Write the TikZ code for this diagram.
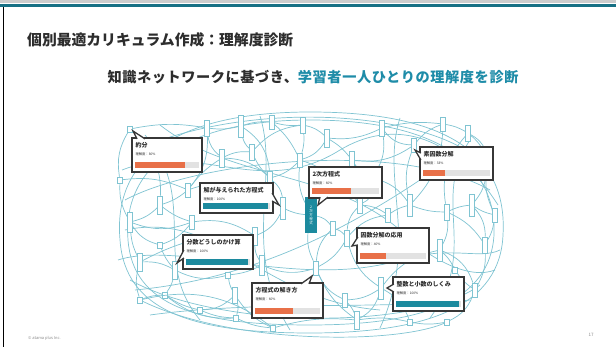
\documentclass[tikz,border=0pt]{standalone}
\usepackage{fontspec}
\setmainfont{Noto Sans CJK JP}
\newfontfamily\subfont[LetterSpace=4]{Noto Sans CJK JP}
\usetikzlibrary{calc}
\definecolor{netc}{RGB}{128,196,210}
\definecolor{tealm}{RGB}{28,138,158}
\definecolor{tealt}{RGB}{30,140,168}
\definecolor{topbar}{RGB}{22,112,132}
\definecolor{orng}{RGB}{232,112,72}
\definecolor{barbg}{RGB}{226,226,226}
\definecolor{ink}{RGB}{45,45,45}
\definecolor{cline}{RGB}{55,55,55}
\tikzset{
  net/.style={draw=netc, line width=0.7pt},
  knode/.style={draw=netc, fill=white, line width=0.6pt, minimum width=5, inner sep=0pt},
  cardbox/.style={draw=cline, fill=white, line width=1.3pt, inner sep=0pt},
  cardline/.style={draw=cline, line width=1.3pt, line join=miter},
  cardlabel/.style={anchor=north west, inner sep=0pt, text=ink, font=\bfseries\fontsize{6}{7}\selectfont},
  cardpct/.style={anchor=north west, inner sep=0pt, text=ink, font=\fontsize{3.3}{4}\selectfont},
}
\newcommand\kcard[8]{%
  \node[cardbox, minimum width=#4, minimum height=#5] (#1) at (#2,#3) {};
  \node[cardlabel] (#1-t) at ($(#1.north west)+(4,4.5)$) {#6};
  \node[cardpct] (#1-p) at ($(#1.north west)+(4,15)$) {理解度：#7\%};
  \fill[barbg] ($(#1.south west)+(4,-5)$) rectangle ($(#1.south east)+(-4,-10.5)$);
  \fill[#8] ($(#1.south west)+(4,-5)$) rectangle ++({(#4-8)*#7/100},-5.5);
}
\newcommand\ktail[3]{\fill[white] #1 -- #2 -- #3 -- cycle; \draw[cardline] #1 -- #2 -- #3;}
\begin{document}
\begin{tikzpicture}[x=1pt,y=-1pt]
\useasboundingbox (0,0) rectangle (616,347);
\fill[white] (0,0) rectangle (616,347);
% frame
\fill[black!20] (0,0) rectangle (616,3);
\fill[topbar] (0,4) rectangle (616,7.5);
\draw[black, line width=1.2pt] (3.5,7.5) -- (3.5,347);
% titles
\node[anchor=west, inner sep=0pt, text=ink, font=\bfseries\fontsize{14.8}{16}\selectfont] (title) at (27,40) {個別最適カリキュラム作成：理解度診断};
\node[inner sep=0pt, font=\subfont\bfseries\fontsize{14.2}{16}\selectfont] (sub) at (313,77) {\textcolor{ink}{知識ネットワークに基づき、}\textcolor{tealt}{学習者一人ひとりの理解度を診断}};
% outer rings
\draw[net] (120,240) .. controls (112,150) and (190,112) .. (310,112) .. controls (440,112) and (508,150) .. (503,235) .. controls (500,305) and (430,333) .. (310,333) .. controls (190,333) and (125,310) .. (120,240);
\draw[net] (128,240) .. controls (122,160) and (195,120) .. (310,120) .. controls (430,120) and (497,160) .. (494,235) .. controls (490,300) and (425,325) .. (310,325) .. controls (195,325) and (133,305) .. (128,240);
\draw[net] (140,300) .. controls (230,345) and (400,345) .. (447,322);
\draw[net] (130,280) .. controls (220,330) and (420,330) .. (480,285);
\draw[net] (125,200) .. controls (200,160) and (400,140) .. (490,190);
\draw[net] (135,150) .. controls (250,100) and (420,110) .. (480,160);
\draw[net] (150,315) .. controls (260,300) and (380,310) .. (470,300);
\draw[net] (118,260) .. controls (180,240) and (300,290) .. (400,260) .. controls (450,245) and (480,260) .. (500,250);
\draw[net] (122,170) .. controls (200,140) and (260,200) .. (340,150) .. controls (390,120) and (450,130) .. (498,205);
\draw[net] (145,135) .. controls (200,200) and (150,260) .. (200,320);
\draw[net] (470,140) .. controls (430,200) and (480,250) .. (430,318);
\draw[net] (160,125) .. controls (230,180) and (330,170) .. (400,230) .. controls (430,260) and (470,280) .. (495,270);
\draw[net] (125,230) .. controls (220,210) and (260,300) .. (380,310);
\draw[net] (260,116) .. controls (280,180) and (240,250) .. (290,330);
\draw[net] (400,118) .. controls (380,180) and (420,240) .. (380,328);
\draw[net] (135,290) .. controls (240,280) and (330,240) .. (420,180) .. controls (450,160) and (470,150) .. (492,150);
% small nodes
\foreach \x/\y/\h [count=\i] in {
 130/129/6, 207/128/16, 241/126/22, 272/122/14, 303/125/16, 327/138/18,
 352/160/18, 382/128/16, 414/145/14, 443/124/14, 468/133/16, 487/168/14,
 472/205/22, 447/212/16, 410/205/22, 440/250/22, 485/245/16, 475/290/14,
 447/322/6, 381/288/22, 347/238/16, 283/208/22, 345/190/14, 372/178/20,
 388/215/14, 360/205/16, 255/236/18, 262/265/20, 228/275/6, 160/245/6,
 140/262/18, 130/222/20, 160/205/18, 192/222/14, 175/270/18, 165/295/6,
 200/310/6, 140/300/6, 236/318/6, 273/328/6, 357/320/18, 345/300/14,
 316/268/14, 222/158/18, 252/152/16, 270/178/14, 188/190/14, 300/160/14,
 455/270/6, 495/215/14, 120/180/6, 235/295/16, 333/228/14, 410/322/6}
 {\node[knode, minimum height=\h] (n\i) at (\x,\y) {};}
\node[fill=tealm, minimum width=12, minimum height=36, inner sep=0pt, text=white, align=center, font=\fontsize{3.5}{4}\selectfont] (tb) at (311,215) {2\\次\\方\\程\\式};
% edges
\foreach \a/\b/\bd in {
 1/2/10, 2/3/-10, 3/4/10, 4/5/-10, 5/6/15, 6/7/10, 7/9/-20, 8/10/10, 9/10/15,
 10/11/10, 11/12/20, 12/13/15, 13/17/20, 17/18/15, 18/19/20, 19/54/10, 54/41/-10,
 41/40/-10, 40/39/10, 39/37/10, 37/36/10, 36/38/-10, 38/31/15, 31/32/10, 32/51/15,
 51/1/20, 2/44/-20, 44/45/15, 45/46/-10, 46/22/20, 3/45/-15, 4/48/10, 48/6/-20,
 48/23/15, 23/24/-10, 24/7/15, 24/15/20, 15/14/-10, 14/13/10, 8/24/20, 9/15/-15,
 25/15/10, 26/25/15, 26/21/-20, 23/26/10, 21/43/15, 21/20/-20, 20/16/20, 16/14/-15,
 16/49/10, 49/18/-10, 17/50/-10, 50/12/15, 22/27/20, 27/28/-15, 28/43/-20,
 28/29/10, 29/52/-10, 52/39/15, 35/29/-20, 35/30/10, 30/34/-15, 34/33/10, 33/32/15,
 33/47/-10, 47/44/10, 34/27/20, 31/35/15, 36/35/-10, 43/53/20, 53/21/15, 41/20/-20,
 40/52/15, 37/52/-20, 1/33/25, 11/14/-25, 10/15/20, 5/48/10, 46/48/-15, 45/5/20,
 20/54/20, 42/41/10, 42/20/-15, 42/43/20, 6/8/-15, 7/26/20, 3/46/25, 32/30/-20,
 51/47/15, 50/13/10, 12/11/-30, 38/40/25, 36/39/-20, 31/27/15, 32/34/-20, 47/22/30,
 2/47/20, 8/9/-25, 14/17/15, 16/18/25, 25/21/-20, 24/26/30, 44/46/20, 43/41/-15}
 {\draw[net] (n\a) to[bend left=\bd] (n\b);}
\draw[net] (n22) to[bend left=-10] (tb);
\draw[net] (n53) to[bend left=-20] (tb);
\draw[net] (tb) to[bend left=15] (n48);
\draw[net] (tb) to[bend left=-15] (n43);
% cards
\kcard{c1}{167}{155}{70}{34}{約分}{80}{orng}
\ktail{(137,138.9)}{(133,131)}{(145,138.9)}
\kcard{c2}{236.5}{198}{73}{30}{解が与えられた方程式}{100}{tealm}
\ktail{(272.1,193)}{(279,205)}{(272.1,201)}
\kcard{c3}{345.5}{182.5}{73}{31}{2次方程式}{60}{orng}
\ktail{(320,197.1)}{(318,205)}{(328,197.1)}
\kcard{c4}{456.5}{163.5}{73}{33}{素因数分解}{33}{orng}
\ktail{(420.9,153)}{(415,150)}{(420.9,160)}
\kcard{c5}{218}{252}{70}{34}{分数どうしのかけ算}{100}{tealm}
\ktail{(183.9,250)}{(177,263)}{(183.9,258)}
\kcard{c6}{287.5}{300.5}{71}{35}{方程式の解き方}{60}{orng}
\ktail{(301,283.9)}{(312,276)}{(309,283.9)}
\kcard{c7}{393}{245.5}{72}{35}{因数分解の応用}{40}{orng}
\ktail{(357.9,237)}{(352,246)}{(357.9,245)}
\kcard{c8}{428.5}{294}{71}{34}{整数と小数のしくみ}{100}{tealm}
\ktail{(393.9,284)}{(387,288)}{(393.9,292)}
% footer
\node[anchor=west, inner sep=0pt, text=black!45, font=\fontsize{4}{5}\selectfont] (copy) at (28,338) {© atama plus Inc.};
\node[inner sep=0pt, text=black!45, font=\fontsize{4.5}{5}\selectfont] (pg) at (591,335) {17};
\end{tikzpicture}
\end{document}
